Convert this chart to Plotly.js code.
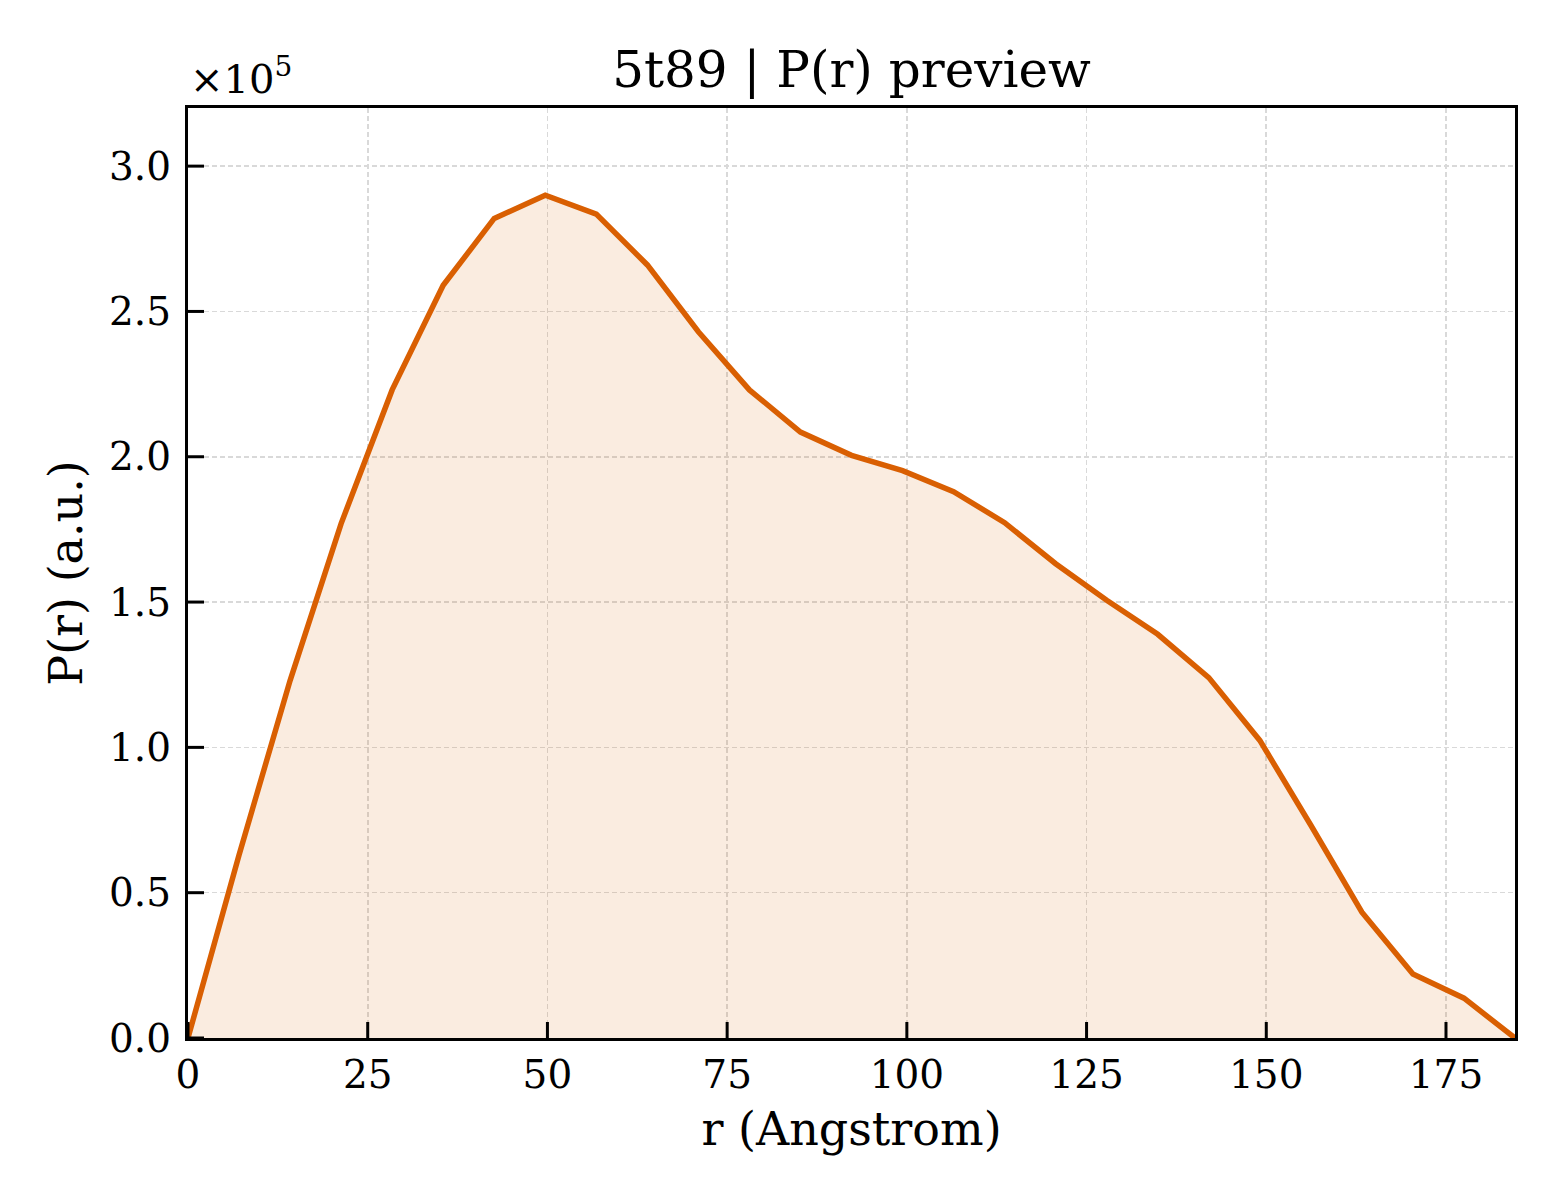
<!DOCTYPE html>
<html>
<head>
<meta charset="utf-8">
<script src="https://cdn.plot.ly/plotly-3.0.1.min.js"></script>
<style>
  html, body { margin: 0; padding: 0; background: white; }
  #chart { width: 1560px; height: 1200px; }
</style>
</head>
<body>
<div id="chart"></div>
<script>
// Distance r (Angstrom) and P(r) read from the preview
const rValues = [0, 7.1, 14.2, 21.3, 28.4, 35.5, 42.6, 49.7, 56.8, 63.9,
    71.0, 78.1, 85.2, 92.3, 99.4, 106.5, 113.6, 120.7, 127.8, 134.9,
    142.0, 149.1, 156.2, 163.3, 170.4, 177.5, 184.6];
const prValues = [0, 63000, 123000, 177000, 223000, 259000, 282000, 290000, 283500, 266000,
    243000, 223000, 208500, 200500, 195200, 188000, 177300, 163200, 150600, 138900,
    124000, 102400, 73200, 43300, 22000, 13700, 0];

const yTickVals = [0, 50000, 100000, 150000, 200000, 250000, 300000];
const yTickText = ['0.0', '0.5', '1.0', '1.5', '2.0', '2.5', '3.0'];
const xTickVals = [0, 25, 50, 75, 100, 125, 150, 175];

const xRange = [0, 184.6];
const yRange = [0, 320000];

const serif = 'DejaVu Serif, serif';
const lineColor = '#d95f02';

const W = 1560, H = 1200;
const margin = { l: 188, r: 45, t: 108, b: 162 };
const tickLen = 16; // px

const prTrace = {
    x: rValues,
    y: prValues,
    type: 'scatter',
    mode: 'lines',
    fill: 'tozeroy',
    fillcolor: 'rgba(217, 95, 2, 0.12)',
    line: { color: lineColor, width: 5.5 },
    hoverinfo: 'skip'
};

// Inward tick marks as short segments; length converted from px to axis units
const plotW = W - margin.l - margin.r;
const plotH = H - margin.t - margin.b;
const xTickLen = tickLen * (xRange[1] - xRange[0]) / plotW;
const yTickLen = tickLen * (yRange[1] - yRange[0]) / plotH;

const tickX = [], tickY = [];
xTickVals.forEach(v => {
    tickX.push(v, v, null);
    tickY.push(yRange[0], yRange[0] + yTickLen, null);
});
yTickVals.forEach(v => {
    tickX.push(xRange[0], xRange[0] + xTickLen, null);
    tickY.push(v, v, null);
});
const tickTrace = {
    x: tickX,
    y: tickY,
    type: 'scatter',
    mode: 'lines',
    connectgaps: false,
    line: { color: 'black', width: 3 },
    hoverinfo: 'skip'
};

// Shared axis styling (matplotlib-like frame)
const axisBase = {
    showline: true,
    linecolor: 'black',
    linewidth: 3.2,
    mirror: true,
    ticks: '',
    showgrid: true,
    gridcolor: '#d9d9d9',
    gridwidth: 1.6,
    griddash: '5px,3px',
    zeroline: false,
    tickfont: { family: serif, size: 39, color: 'black' },
    automargin: false
};

const layout = {
    width: W,
    height: H,
    paper_bgcolor: 'white',
    plot_bgcolor: 'white',
    showlegend: false,
    margin: margin,
    title: {
        text: '5t89 | P(r) preview',
        font: { family: serif, size: 50, color: 'black' },
        x: 0.5,
        xref: 'paper',
        y: 1,
        yref: 'paper',
        yanchor: 'bottom',
        pad: { b: 21 }
    },
    xaxis: Object.assign({}, axisBase, {
        range: xRange,
        tickmode: 'array',
        tickvals: xTickVals,
        ticklabelstandoff: 0,
        title: {
            text: 'r (Angstrom)',
            font: { family: serif, size: 46, color: 'black' },
            standoff: 17
        }
    }),
    yaxis: Object.assign({}, axisBase, {
        range: yRange,
        tickmode: 'array',
        tickvals: yTickVals,
        ticktext: yTickText,
        ticklabelstandoff: 6,
        title: {
            text: 'P(r) (a.u.)',
            font: { family: serif, size: 46, color: 'black' },
            standoff: 12
        }
    }),
    annotations: [{
        text: '×10<sup>5</sup>',
        xref: 'paper',
        yref: 'paper',
        x: 0,
        y: 1,
        xanchor: 'left',
        yanchor: 'bottom',
        yshift: 4,
        showarrow: false,
        font: { family: serif, size: 40, color: 'black' }
    }]
};

Plotly.newPlot('chart', [prTrace, tickTrace], layout, { displayModeBar: false, staticPlot: true });
</script>
</body>
</html>
